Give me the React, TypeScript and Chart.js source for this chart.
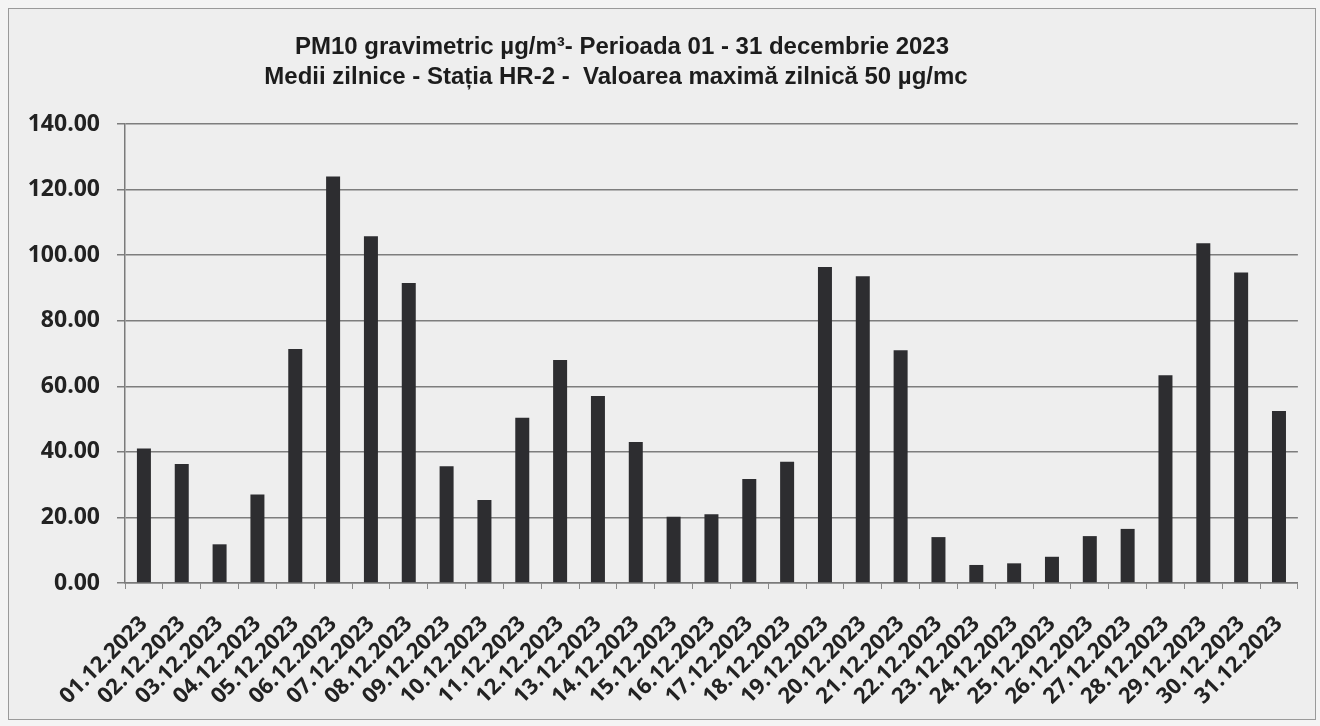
import React, { useEffect, useRef } from "react";
import { Chart, registerables } from "chart.js";

Chart.register(...registerables);

const titleLines: string[] = [
  "PM10 gravimetric µg/m³- Perioada 01 - 31 decembrie 2023",
  "Medii zilnice - Stația HR-2 -  Valoarea maximă zilnică 50 µg/mc",
];

const days: string[] = [
  "01.12.2023", "02.12.2023", "03.12.2023", "04.12.2023", "05.12.2023",
  "06.12.2023", "07.12.2023", "08.12.2023", "09.12.2023", "10.12.2023",
  "11.12.2023", "12.12.2023", "13.12.2023", "14.12.2023", "15.12.2023",
  "16.12.2023", "17.12.2023", "18.12.2023", "19.12.2023", "20.12.2023",
  "21.12.2023", "22.12.2023", "23.12.2023", "24.12.2023", "25.12.2023",
  "26.12.2023", "27.12.2023", "28.12.2023", "29.12.2023", "30.12.2023",
  "31.12.2023",
];

const pm10Values: number[] = [
  41.0, 36.3, 11.8, 27.0, 71.4, 124.0, 105.8, 91.5, 35.6, 25.3,
  50.4, 68.0, 57.0, 43.0, 20.2, 21.0, 31.7, 37.0, 96.4, 93.6,
  71.0, 14.0, 5.5, 6.0, 8.0, 14.3, 16.5, 63.4, 103.6, 94.7,
  52.5,
];

const yMin = 0;
const yMax = 140;
const yStep = 20;

const titlePlugin = {
  id: "twoLineTitle",
  afterDraw(chart: any) {
    const ctx = chart.ctx;
    ctx.save();
    ctx.fillStyle = "#1c1c1c";
    ctx.textAlign = "center";
    ctx.textBaseline = "middle";
    ctx.font = "bold 24px 'Liberation Sans Narrow', 'Liberation Sans', Arial, sans-serif";
    ctx.fillText(titleLines[0], 622, 47);
    ctx.fillText(titleLines[1], 616, 77);
    ctx.restore();
  },
};

export default function App() {
  const canvasRef = useRef<HTMLCanvasElement | null>(null);

  useEffect(() => {
    if (!canvasRef.current) return;
    const chart = new Chart(canvasRef.current, {
      type: "bar",
      data: {
        labels: days,
        datasets: [
          {
            label: "PM10",
            data: pm10Values,
            backgroundColor: "#2d2d30",
            borderWidth: 0,
            barPercentage: 0.37,
            categoryPercentage: 1.0,
          },
        ],
      },
      options: {
        animation: false,
        responsive: false,
        maintainAspectRatio: false,
        layout: { padding: { top: 124, right: 22, bottom: 0, left: 0 } },
        plugins: {
          legend: { display: false },
          title: { display: false },
          tooltip: { enabled: false },
        },
        scales: {
          x: {
            offset: true,
            grid: {
              offset: true,
              drawOnChartArea: false,
              drawTicks: true,
              tickLength: 6,
              color: "#8a8a8a",
              lineWidth: 1,
            },
            border: { display: true, color: "#7a7a7a", width: 1.5 },
            ticks: {
              autoSkip: false,
              minRotation: 45,
              maxRotation: 45,
              padding: 22,
              color: "#222222",
              font: { family: "'Open Sans', sans-serif", size: 22, weight: "bold" },
            },
            afterFit(scale: any) {
              scale.height = 143;
            },
          },
          y: {
            min: yMin,
            max: yMax,
            grid: {
              color: "#7d7d7d",
              lineWidth: 1.5,
              drawTicks: true,
              tickLength: 8,
            },
            border: { display: true, color: "#7a7a7a", width: 1.5 },
            ticks: {
              stepSize: yStep,
              padding: 17,
              color: "#222222",
              font: { family: "'Open Sans', sans-serif", size: 23, weight: "bold" },
              callback: (v: any) => Number(v).toFixed(2),
            },
            afterFit(scale: any) {
              scale.width = 125;
            },
          },
        },
      },
      plugins: [titlePlugin],
    });
    return () => chart.destroy();
  }, []);

  return (
    <div
      style={{
        position: "fixed",
        left: 0,
        top: 0,
        width: 1320,
        height: 726,
        background: "#f4f4f4",
        overflow: "hidden",
      }}
    >
      <div
        style={{
          position: "absolute",
          left: 8,
          top: 8,
          width: 1308,
          height: 712,
          border: "1.5px solid #9a9a9a",
          background: "#eeeeee",
          boxSizing: "border-box",
        }}
      />
      <canvas
        ref={canvasRef}
        width={1320}
        height={726}
        style={{ position: "absolute", left: 0, top: 0, width: 1320, height: 726 }}
      />
    </div>
  );
}
